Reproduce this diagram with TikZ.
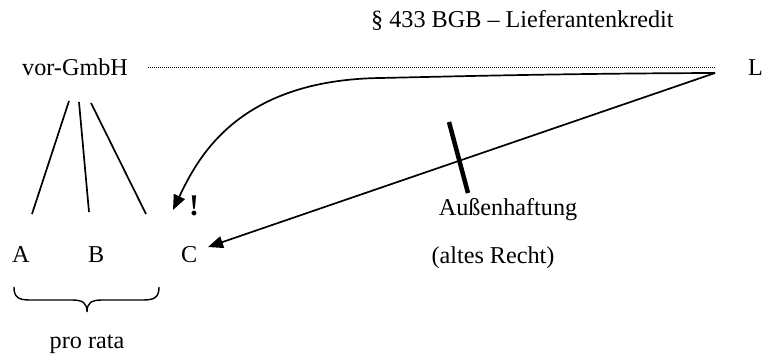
\documentclass[tikz,border=0pt]{standalone}
\usepackage{fontspec}
\setmainfont{Liberation Serif}
\usetikzlibrary{arrows.meta}
\begin{document}
\begin{tikzpicture}[x=1pt,y=-1pt,
  lbl/.style={inner sep=0pt,anchor=base west,font=\fontsize{24.2}{29}\selectfont},
  lblc/.style={inner sep=0pt,anchor=base,font=\fontsize{24.2}{29}\selectfont},
  conn/.style={line width=1.7pt},
  arr/.style={line width=1.7pt,-{Triangle[length=15pt,width=12pt]}},
  dots/.style={line width=1pt,dash pattern=on 0.9pt off 1.1pt}]
\useasboundingbox (0,0) rectangle (762,354);
\node[lbl] (title) at (371,27) {§ 433 BGB – Lieferantenkredit};
\node[lbl] (vor) at (22,75) {vor-GmbH};
\node[lbl] (L) at (748,75) {L};
\node[lbl] (A) at (12,262) {A};
\node[lbl] (B) at (88,262) {B};
\node[lbl] (C) at (181,262) {C};
\node[lblc] (pro) at (87,348) {pro rata};
\node[lblc] (auss) at (508,215) {Außenhaftung};
\node[lblc] (alt) at (493,263) {(altes Recht)};
\node[lbl,font=\fontsize{30}{33}\selectfont\bfseries] (ex) at (189,215) {!};
% endpoints
\coordinate (dotS) at (148,67);
\coordinate (dotE) at (715,67);
\coordinate (Ls) at (715,73);
\coordinate (mid) at (380,78);
\coordinate (tipEx) at (173,210);
\coordinate (tipC) at (208,247);
\coordinate (v1) at (69,101); \coordinate (a1) at (32,214);
\coordinate (v2) at (79,102); \coordinate (b1) at (89,212);
\coordinate (v3) at (91,103); \coordinate (c1) at (146,214);
\coordinate (barT) at (449,122); \coordinate (barB) at (468,193);
\coordinate (brL) at (14,287); \coordinate (brR) at (159,287); \coordinate (brM) at (87,312);
\draw[dots] (dotS) -- (dotE);
\draw[conn] (v1) -- (a1);
\draw[conn] (v2) -- (b1);
\draw[conn] (v3) -- (c1);
\draw[arr] (Ls) .. controls (560,73.5) and (450,76.5) .. (mid)
  .. controls (240,80) and (199,155) .. (tipEx);
\draw[arr] (Ls) -- (tipC);
\draw[line width=4.5pt] (barT) -- (barB);
\draw[line width=1.4pt] (brL) .. controls (14,297) and (18,300) .. (30,300) -- (72,300)
  .. controls (83,300) and (87,303) .. (brM)
  .. controls (87,303) and (91,300) .. (102,300) -- (143,300)
  .. controls (155,300) and (159,297) .. (brR);
\end{tikzpicture}
\end{document}
